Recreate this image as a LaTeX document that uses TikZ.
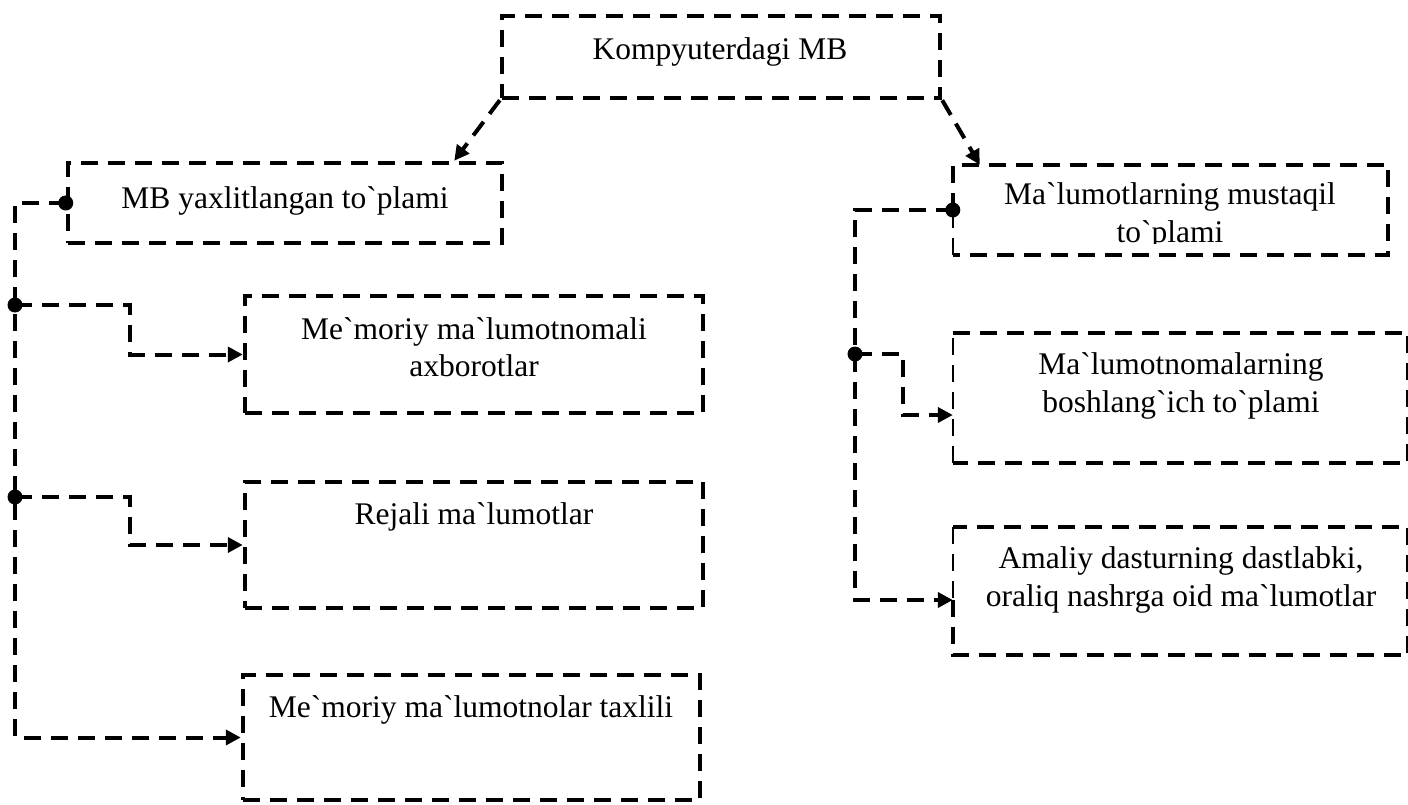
\documentclass[tikz,border=0pt]{standalone}
\usepackage{fontspec}
\setmainfont{Liberation Serif}[Ligatures=TeXOff]
\usetikzlibrary{arrows.meta,calc}
\begin{document}
\begin{tikzpicture}[x=1pt,y=1pt,
  frame/.style={line width=4.5pt, dash pattern=on 17pt off 10pt},
  thinframe/.style={line width=1.8pt, dash pattern=on 17pt off 10pt},
  box/.style={draw, rectangle, frame, inner sep=0pt},
  openbox/.style={rectangle, inner sep=0pt},
  conn/.style={line width=4pt, dash pattern=on 17pt off 10pt},
  tip/.style={-{Triangle[length=15pt,width=15pt]}},
  txt/.style={font=\fontsize{31.5}{37.5}\selectfont, align=center, inner sep=0pt}]
\useasboundingbox (0,0) rectangle (1408,-805);

% boxes
\node[box, minimum width=438pt, minimum height=82pt]  (top) at (721,-57)    {};
\node[box, minimum width=434pt, minimum height=80pt]  (b1)  at (285,-203)   {};
\node[box, minimum width=458pt, minimum height=117pt] (b2)  at (474,-354.5) {};
\node[box, minimum width=458pt, minimum height=126pt] (b3)  at (474,-545)   {};
\node[box, minimum width=457pt, minimum height=125pt] (b4)  at (471.5,-737.5) {};
\node[openbox, minimum width=435pt, minimum height=90pt]  (r1) at (1170.5,-210) {};
\node[openbox, minimum width=455pt, minimum height=130pt] (r2) at (1180.5,-398) {};
\node[openbox, minimum width=455pt, minimum height=128pt] (r3) at (1180.5,-591) {};

% right-hand frames: heavy on three sides, lighter on the left
\draw[frame] (r1.west) -- (r1.north west) -- (r1.north east) -- (r1.south east) -- (r1.south west);
\draw[thinframe] (r1.south west) -- (r1.west);
\draw[frame] (r2.north west) -- (r2.north east) -- (r2.south east) -- (r2.south west);
\draw[thinframe] (r2.south west) -- (r2.north west);
\draw[frame] ($(r3.west)+(0,-9)$) -- (r3.south west) -- (r3.south east) -- (r3.north east) -- (r3.north west);
\draw[thinframe] (r3.north west) -- ($(r3.west)+(0,-9)$);

% labels
\node[txt] (ttop) at (720,-52)  {Kompyuterdagi MB};
\node[txt] (tb1)  at (285,-201) {MB yaxlitlangan to`plami};
\node[txt] (tb2)  at (474,-347) {Me`moriy ma`lumotnomali\\axborotlar};
\node[txt] (tb3)  at (474,-517) {Rejali ma`lumotlar};
\node[txt] (tb4)  at (471,-710) {Me`moriy ma`lumotnolar taxlili};
\begin{scope}
  \clip (955,-167) rectangle (1386,-243);
  \node[txt] (tr1) at (1170,-216) {Ma`lumotlarning mustaqil\\to`plami};
\end{scope}
\node[txt] (tr2)  at (1181,-386) {Ma`lumotnomalarning\\boshlang`ich to`plami};
\node[txt] (tr3)  at (1181,-580) {Amaliy dasturning dastlabki,\\oraliq nashrga oid ma`lumotlar};

% junction points of the two buses
\coordinate (lb) at (15,0);
\coordinate (rb) at (855,0);
\coordinate (j1) at (15,-305);
\coordinate (j2) at (15,-497);
\coordinate (j3) at (855,-354);

% top-level arrows
\draw[conn, tip] (top.south west) -- ($(b1.north east)+(-50,0)$);
\draw[conn, tip] (top.south east) -- ($(r1.north west)+(27,0)$);

% left bus
\draw[conn, tip] (b1.west) -| (b4.west -| lb) -- (b4.west);
\draw[conn, tip] (j1) -- (130,-305) -- (b2.west -| 130,0) -- (b2.west);
\draw[conn, tip] (j2) -- (130,-497) -- (130,-545) -- (b3.west);
\fill (b1.west) circle (7.5);
\fill (j1) circle (7.5);
\fill (j2) circle (7.5);

% right bus
\draw[conn, tip] (r1.west) -| ($(r3.west -| rb)+(0,-9)$) -- ($(r3.west)+(0,-9)$);
\draw[conn, tip] (j3) -- (903,-354) -- ($(r2.west -| 903,0)+(0,-17)$) -- ($(r2.west)+(0,-17)$);
\fill (r1.west) circle (7.5);
\fill (j3) circle (7.5);
\end{tikzpicture}
\end{document}
